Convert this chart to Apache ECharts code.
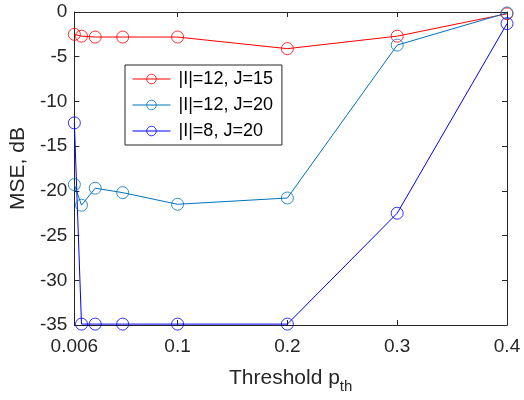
<!DOCTYPE html>
<html>
<head>
<meta charset="utf-8">
<script src="https://cdn.jsdelivr.net/npm/echarts@6/dist/echarts.min.js"></script>
<style>
  html, body { margin: 0; padding: 0; background: #fff; }
  #chart { width: 524px; height: 400px; }
</style>
</head>
<body>
<div id="chart"></div>
<script>
// threshold values (x) and MSE in dB for each configuration
var thresholds = [0.006, 0.0125, 0.025, 0.05, 0.1, 0.2, 0.3, 0.4];
var mseI12J15 = [-2.5, -2.7, -2.8, -2.8, -2.8, -4.1, -2.7, -0.2];
var mseI12J20 = [-19.3, -21.6, -19.7, -20.2, -21.5, -20.8, -3.7, -0.1];
var mseI8J20 = [-12.4, -34.9, -34.9, -34.9, -34.9, -34.9, -22.5, -1.3];
var seriesNames = ['|I|=12, J=15', '|I|=12, J=20', '|I|=8, J=20'];
var xTicks = [0.006, 0.1, 0.2, 0.3, 0.4];

var axisColor = '#262626';
var font = 'Liberation Sans, Arial, sans-serif';

function pairs(ys) {
  return thresholds.map(function (x, i) { return [x, ys[i]]; });
}

function lineSeries(name, ys, color) {
  return {
    name: name,
    type: 'line',
    data: pairs(ys),
    symbol: 'circle',
    symbolSize: 12,
    clip: false,
    lineStyle: { color: color, width: 1 },
    itemStyle: { color: 'rgba(0,0,0,0)', borderColor: color, borderWidth: 0.8 },
    emphasis: { disabled: true }
  };
}

var chart = echarts.init(document.getElementById('chart'));

var option = {
  animation: false,
  backgroundColor: '#fff',
  grid: { left: 74, right: 17, top: 12, bottom: 75 },
  legend: {
    left: 125,
    top: 65,
    orient: 'vertical',
    data: seriesNames,
    itemWidth: 38,
    itemHeight: 12,
    itemGap: 8,
    padding: [5, 9, 5, 7],
    backgroundColor: '#fff',
    borderColor: axisColor,
    borderWidth: 1,
    borderRadius: 0,
    lineStyle: { width: 1 },
    itemStyle: { borderWidth: 0.8 },
    textStyle: { fontFamily: font, fontSize: 18, color: '#000', padding: [0, 0, 0, 3] }
  },
  xAxis: [{
    type: 'value',
    min: 0.006,
    max: 0.4,
    name: '{a|Threshold p}{b|th}',
    nameLocation: 'middle',
    nameGap: 38,
    nameTextStyle: {
      rich: {
        a: { fontFamily: font, fontSize: 21, color: axisColor },
        b: { fontFamily: font, fontSize: 15, color: axisColor, padding: [16, 0, 0, 0] }
      }
    },
    splitLine: { show: false },
    axisLine: { show: true, onZero: false, lineStyle: { color: axisColor } },
    axisTick: { inside: true, length: 5, customValues: xTicks, lineStyle: { color: axisColor } },
    axisLabel: {
      customValues: xTicks,
      fontFamily: font,
      fontSize: 19,
      color: axisColor,
      margin: 12,
      formatter: function (v) { return String(v); }
    }
  }, {
    type: 'value',
    position: 'top',
    min: 0.006,
    max: 0.4,
    splitLine: { show: false },
    axisLine: { show: true, onZero: false, lineStyle: { color: axisColor } },
    axisTick: { inside: true, length: 5, customValues: xTicks, lineStyle: { color: axisColor } },
    axisLabel: { show: false }
  }],
  yAxis: [{
    type: 'value',
    min: -35,
    max: 0,
    interval: 5,
    name: 'MSE, dB',
    nameLocation: 'middle',
    nameGap: 45,
    nameTextStyle: { fontFamily: font, fontSize: 21, color: axisColor },
    splitLine: { show: false },
    axisLine: { show: true, onZero: false, lineStyle: { color: axisColor } },
    axisTick: { inside: true, length: 5, lineStyle: { color: axisColor } },
    axisLabel: { fontFamily: font, fontSize: 19, color: axisColor, margin: 7 }
  }, {
    type: 'value',
    position: 'right',
    min: -35,
    max: 0,
    interval: 5,
    splitLine: { show: false },
    axisLine: { show: true, onZero: false, lineStyle: { color: axisColor } },
    axisTick: { inside: true, length: 5, lineStyle: { color: axisColor } },
    axisLabel: { show: false }
  }],
  series: [
    lineSeries(seriesNames[0], mseI12J15, '#ff0000'),
    lineSeries(seriesNames[1], mseI12J20, '#0072bd'),
    lineSeries(seriesNames[2], mseI8J20, '#0000ff')
  ]
};

chart.setOption(option);
</script>
</body>
</html>
